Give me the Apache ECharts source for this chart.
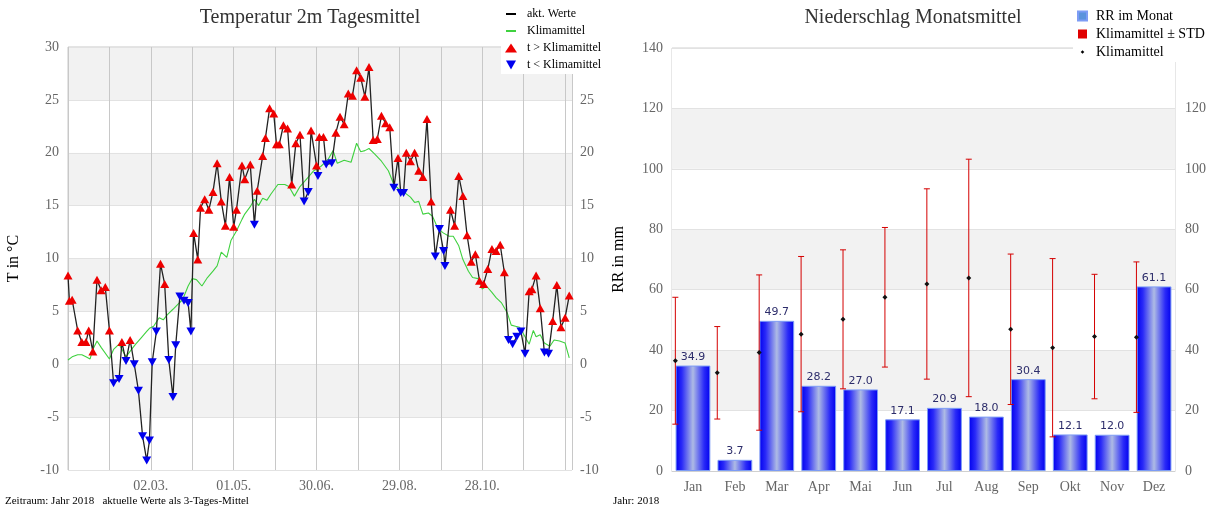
<!DOCTYPE html>
<html>
<head>
<meta charset="utf-8">
<script src="https://cdn.jsdelivr.net/npm/echarts@6/dist/echarts.min.js"></script>
<style>
html,body{margin:0;padding:0;background:#fff;}
#main{width:1213px;height:509px;}
</style>
</head>
<body>
<div id="main"></div>
<script>
// Temperatur: Tag im Jahr (0 = 01.01.) und 3-Tages-Mittel
var tempDays = [0,1,3,7,10,13,15,18,21,24,27,30,33,37,39,42,45,48,51,54,57,59,61,64,67,70,73,76,78,81,84,87,89,91,94,96,99,102,105,108,111,114,117,120,122,126,128,132,135,137,141,143,146,149,151,153,156,159,162,165,168,171,174,176,180,181,182,185,187,191,194,197,200,203,206,209,212,215,218,221,224,227,230,233,236,239,241,243,245,248,251,254,257,260,263,266,269,272,273,277,280,283,286,289,292,295,298,301,304,307,310,313,316,319,322,325,328,331,334,336,339,342,345,348,351,354,357,360,363];
var tempVals = [8.4,6.0,6.1,3.2,2.1,2.1,3.2,1.2,8.0,7.0,7.3,3.2,
	-1.8,-1.4,2.1,0.3,2.3,0.0,-2.5,-6.8,-9.1,-7.2,0.2,3.1,
	9.5,7.6,0.4,-3.1,1.8,6.4,6.0,5.8,3.1,12.4,9.9,14.8,
	15.6,14.6,16.3,19.0,15.4,13.1,17.7,13.0,14.6,18.8,17.5,18.9,
	13.2,16.4,19.7,21.4,24.2,23.7,20.8,20.8,22.6,22.3,17.0,20.9,
	21.7,15.4,16.3,22.1,18.8,17.8,21.5,21.5,18.9,19.0,21.9,23.4,
	22.7,25.6,25.4,27.8,27.1,25.3,28.1,21.2,21.3,23.5,22.8,22.4,
	16.7,19.5,16.2,16.2,20.0,19.2,20.0,18.3,17.7,23.2,15.4,10.2,
	12.8,10.7,9.3,14.6,13.1,17.8,15.9,12.2,9.7,10.4,7.9,7.6,
	9.0,10.9,10.7,11.3,8.7,2.3,1.9,2.6,3.1,1.0,6.9,7.1,
	8.4,5.3,1.1,1.0,4.1,7.5,3.5,4.4,6.5];
// 1 = über Klimamittel (rot), 0 = darunter (blau)
var aboveClim = [1,1,1,1,1,1,1,1,1,1,1,1,
	0,0,1,0,1,0,0,0,0,0,0,0,
	1,1,0,0,0,0,0,0,0,1,1,1,
	1,1,1,1,1,1,1,1,1,1,1,1,
	0,1,1,1,1,1,1,1,1,1,1,1,
	1,0,0,1,1,0,1,1,0,0,1,1,
	1,1,1,1,1,1,1,1,1,1,1,1,
	0,1,0,0,1,1,1,1,1,1,1,0,
	0,0,0,1,1,1,1,1,1,1,1,1,
	1,1,1,1,1,0,0,0,0,0,1,1,
	1,1,0,0,1,1,1,1,1];
var climDays = [0,3,7,10,13,16,18,21,24,30,33,37,42,46,49,53,57,59,62,66,69,72,76,79,83,87,90,93,97,101,105,108,111,115,118,122,126,128,132,135,138,141,144,147,152,157,160,164,168,174,178,183,188,192,195,200,205,209,212,215,218,222,227,232,236,241,244,248,251,254,257,261,264,268,272,276,279,283,286,290,293,297,300,303,307,310,314,318,321,324,327,331,334,337,339,342,345,349,352,356,360,363];
var climVals = [0.4,0.7,0.9,0.9,0.7,0.5,1.4,2.2,1.6,0.5,1.4,1.9,0.7,1.4,1.9,2.5,3.1,3.4,3.6,4.4,4.2,4.7,5.2,5.6,6.1,7.4,8.1,8.0,7.4,8.2,8.8,9.3,10.6,10.1,11.7,12.6,13.7,14.2,14.9,15.6,15.0,15.7,15.5,16.1,17.0,17.0,16.8,15.9,16.8,17.7,18.3,18.7,19.3,20.2,19.0,19.3,19.1,20.9,20.1,20.2,20.4,19.9,19.2,18.3,17.0,16.4,16.2,15.8,15.3,15.4,14.2,14.3,14.0,12.8,12.4,12.1,12.1,11.2,9.9,8.8,8.2,8.1,7.1,7.4,6.8,6.3,5.8,4.9,3.7,3.6,3.5,2.6,1.9,3.2,2.6,2.8,2.0,1.7,2.3,2.2,2.0,0.6];
var xTickDays = [60,120,180,240,300];
var xTickLabels = ['02.03.','01.05.','30.06.','29.08.','28.10.'];

// Niederschlag
var months = ['Jan','Feb','Mar','Apr','Mai','Jun','Jul','Aug','Sep','Okt','Nov','Dez'];
var rrMonth = [34.9,3.7,49.7,28.2,27.0,17.1,20.9,18.0,30.4,12.1,12.0,61.1];
var rrClimMean = [36.5,32.5,39.2,45.3,50.2,57.5,61.9,63.9,46.9,40.8,44.5,44.3];
var rrClimStd = [21.0,15.3,25.7,25.7,23.0,23.1,31.5,39.3,24.9,29.5,20.6,24.9];

var serif = 'Liberation Serif';
var warm = [], cold = [], lineData = [], climData = [];
tempDays.forEach(function(d,i){
	lineData.push([d,tempVals[i]]);
	if(aboveClim[i]) warm.push([d,tempVals[i]]);
	else cold.push([d,tempVals[i]]);
});
climDays.forEach(function(d,i){ climData.push([d,climVals[i]]); });

var stdData = [], meanData = [];
months.forEach(function(m,i){
	stdData.push([i, rrClimMean[i]-rrClimStd[i], rrClimMean[i]+rrClimStd[i]]);
	meanData.push([i, rrClimMean[i]]);
});

var downTri = 'path://M0,0L10,0L5,9Z';
// legend icons: leere moveTo-Punkte halten die Box, damit die Linie duenn bleibt
var lineIcon = 'path://M0,0M12,9M1,3.5L11,3.5L11,5.5L1,5.5Z';
var axisFont = {color:'#666', fontFamily:serif, fontSize:14};

var myChart = echarts.init(document.getElementById('main'));
var option = {
	animation:false,
	graphic:[
		{type:'text', x:310, y:8, style:{text:'Temperatur 2m Tagesmittel', font:'20px "Liberation Serif"', fill:'#333', textAlign:'center'}},
		{type:'text', x:913, y:8, style:{text:'Niederschlag Monatsmittel', font:'20px "Liberation Serif"', fill:'#333', textAlign:'center'}},
		{type:'text', x:5, y:496, style:{text:'Zeitraum: Jahr 2018\u00a0\u00a0 aktuelle Werte als 3-Tages-Mittel', font:'11px "Liberation Serif"', fill:'#000'}},
		{type:'text', x:613, y:496, style:{text:'Jahr: 2018', font:'11px "Liberation Serif"', fill:'#000'}}
	],
	legend:[{
		orient:'vertical', left:501, top:5, selectedMode:false,
		itemWidth:12, itemHeight:9, itemGap:5,
		backgroundColor:'#fff', padding:[3,4,3,4],
		textStyle:{fontFamily:serif, fontSize:12, color:'#000', lineHeight:12, padding:[0,0,0,5]},
		data:[
			{name:'akt. Werte', icon:lineIcon, itemStyle:{color:'#000'}},
			{name:'Klimamittel', icon:lineIcon, itemStyle:{color:'#3fd13f'}},
			't > Klimamittel',
			't < Klimamittel'
		]
	},{
		orient:'vertical', left:1073, top:6, selectedMode:false,
		itemWidth:9, itemHeight:9, itemGap:4,
		backgroundColor:'#fff', padding:[3,4,3,4],
		textStyle:{fontFamily:serif, fontSize:14, color:'#000', lineHeight:14, padding:[0,0,0,4]},
		data:[
			{name:'RR im Monat', icon:'rect', itemStyle:{color:'#5b93dc'}},
			{name:'Klimamittel \u00b1 STD', icon:'rect', itemStyle:{color:'#e00000'}},
			{name:'Klimamittel ', icon:'path://M0,0M10,10M5,3L7,5L5,7L3,5Z', itemStyle:{color:'#000'}}
		]
	}],
	grid:[
		{left:68, top:47, width:504, height:423, show:true, borderColor:'#c8c8c8', borderWidth:1},
		{left:672, top:48, width:503, height:423, show:true, borderColor:'#d0d0d0', borderWidth:1}
	],
	xAxis:[{
		type:'value', gridIndex:0, min:0, max:365, interval:30,
		axisLine:{show:false}, axisTick:{show:false},
		splitLine:{show:true, lineStyle:{color:'#c8c8c8'}},
		axisLabel:Object.assign({margin:9, formatter:function(v){
			var k = xTickDays.indexOf(v);
			return k < 0 ? '' : xTickLabels[k];
		}}, axisFont)
	},{
		type:'category', gridIndex:1, data:months,
		axisLine:{lineStyle:{color:'#d0d0d0'}}, axisTick:{show:false},
		axisLabel:Object.assign({margin:9}, axisFont)
	}],
	yAxis:[{
		type:'value', gridIndex:0, min:-10, max:30, interval:5,
		name:'T in \u00b0C', nameLocation:'middle', nameGap:46, nameRotate:90,
		nameTextStyle:{fontFamily:serif, fontSize:16, color:'#000'},
		axisLine:{show:false}, axisTick:{show:false},
		splitLine:{lineStyle:{color:'#e2e2e2'}},
		splitArea:{show:true, areaStyle:{color:['#ffffff','#f2f2f2']}},
		axisLabel:Object.assign({margin:9}, axisFont)
	},{
		type:'value', gridIndex:0, min:-10, max:30, interval:5, position:'right',
		axisLine:{show:false}, axisTick:{show:false}, splitLine:{show:false},
		axisLabel:Object.assign({margin:8, formatter:function(v){ return v == 30 ? '' : v; }}, axisFont)
	},{
		type:'value', gridIndex:1, min:0, max:140, interval:20,
		name:'RR in mm', nameLocation:'middle', nameGap:45, nameRotate:90,
		nameTextStyle:{fontFamily:serif, fontSize:16, color:'#000'},
		axisLine:{show:false}, axisTick:{show:false},
		splitLine:{lineStyle:{color:'#e2e2e2'}},
		splitArea:{show:true, areaStyle:{color:['#ffffff','#f2f2f2']}},
		axisLabel:Object.assign({margin:9}, axisFont)
	},{
		type:'value', gridIndex:1, min:0, max:140, interval:20, position:'right',
		axisLine:{show:false}, axisTick:{show:false}, splitLine:{show:false},
		axisLabel:Object.assign({margin:10, formatter:function(v){ return v == 140 ? '' : v; }}, axisFont)
	}],
	series:[{
		name:'Klimamittel', type:'line', xAxisIndex:0, yAxisIndex:0,
		data:climData, symbol:'none', z:2,
		lineStyle:{color:'#3fd13f', width:1.1}, itemStyle:{color:'#3fd13f'}
	},{
		name:'akt. Werte', type:'line', xAxisIndex:0, yAxisIndex:0,
		data:lineData, symbol:'none', z:3,
		lineStyle:{color:'#222', width:1.3}, itemStyle:{color:'#111'}
	},{
		name:'t > Klimamittel', type:'scatter', xAxisIndex:0, yAxisIndex:0,
		data:warm, symbol:'triangle', symbolSize:[9,8], z:4,
		itemStyle:{color:'#ee0000', opacity:1}
	},{
		name:'t < Klimamittel', type:'scatter', xAxisIndex:0, yAxisIndex:0,
		data:cold, symbol:downTri, symbolSize:[9,8], z:4,
		itemStyle:{color:'#0000ee', opacity:1}
	},{
		name:'RR im Monat', type:'bar', xAxisIndex:1, yAxisIndex:2,
		data:rrMonth, barWidth:'83%', z:2,
		itemStyle:{
			borderColor:'#7d9cf5', borderWidth:1,
			color:new echarts.graphic.LinearGradient(0,0,1,0,[
				{offset:0, color:'#0000ee'},
				{offset:0.18, color:'#2a2af8'},
				{offset:0.5, color:'#aebbe4'},
				{offset:0.82, color:'#2a2af8'},
				{offset:1, color:'#0000ee'}
			])
		},
		label:{show:true, position:'top', distance:3, color:'#2d2d6b',
			fontFamily:'DejaVu Sans', fontSize:11,
			formatter:function(p){ return p.value.toFixed(1); }}
	},{
		name:'Klimamittel \u00b1 STD', type:'custom', xAxisIndex:1, yAxisIndex:2, z:5,
		data:stdData, encode:{x:0, y:[1,2]}, itemStyle:{color:'#e00000'},
		renderItem:function(params, api){
			var i = api.value(0);
			var lo = api.coord([i, api.value(1)]);
			var hi = api.coord([i, api.value(2)]);
			var x = lo[0] - api.size([1,0])[0]*0.42;
			var st = {stroke:'#d40000', lineWidth:1};
			return {type:'group', children:[
				{type:'line', shape:{x1:x, y1:hi[1], x2:x, y2:lo[1]}, style:st},
				{type:'line', shape:{x1:x-3, y1:hi[1], x2:x+3, y2:hi[1]}, style:st},
				{type:'line', shape:{x1:x-3, y1:lo[1], x2:x+3, y2:lo[1]}, style:st}
			]};
		}
	},{
		name:'Klimamittel ', type:'custom', xAxisIndex:1, yAxisIndex:2, z:6,
		data:meanData, encode:{x:0, y:1}, itemStyle:{color:'#000'},
		renderItem:function(params, api){
			var p = api.coord([api.value(0), api.value(1)]);
			var x = p[0] - api.size([1,0])[0]*0.42, y = p[1];
			return {type:'polygon', shape:{points:[[x,y-2.5],[x+2.5,y],[x,y+2.5],[x-2.5,y]]}, style:{fill:'#111'}};
		}
	}]
};
myChart.setOption(option);
</script>
</body>
</html>
